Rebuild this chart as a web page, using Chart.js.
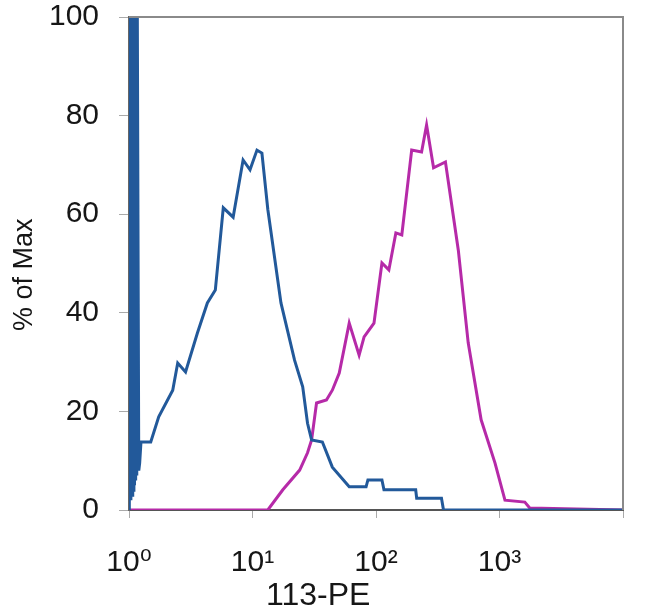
<!DOCTYPE html>
<html>
<head>
<meta charset="utf-8">
<script src="https://cdn.jsdelivr.net/npm/chart.js@4.4.1/dist/chart.umd.min.js"></script>
<style>
  html, body { margin: 0; padding: 0; background: #ffffff; }
  #wrap { width: 650px; height: 615px; position: relative; }
</style>
</head>
<body>
<div id="wrap"><canvas id="c" width="650" height="615"></canvas></div>
<script>
// ---- data ----
const blueX = [1, 1, 1.012, 1.024, 1.036, 1.048, 1.06, 1.072, 1.084, 1.096, 1.108, 1.12, 1.132, 1.144, 1.156, 1.168, 1.2, 1.22, 1.25, 1.5, 1.74, 2.26, 2.48, 2.87, 3.58, 4.31, 5.0, 5.8, 6.97, 8.39, 9.55, 10.87, 11.92, 13.3, 17.0, 21.9, 25.5, 27.9, 30.1, 36.8, 44.3, 60.7, 83.1, 86, 111.7, 116, 209.6, 213.5, 339, 352, 10000];
const blueY = [0, 100, 1, 100, 2, 100, 3, 100, 4, 100, 5, 100, 6, 100, 7, 100, 8, 9.5, 13.8, 13.8, 18.9, 24.3, 29.8, 28.0, 35.9, 42.0, 44.6, 61.3, 59.4, 71.0, 69.0, 73.0, 72.4, 61.0, 42.0, 30.4, 25.0, 17.6, 14.2, 13.8, 8.7, 4.7, 4.7, 6.1, 6.1, 4.1, 4.1, 2.4, 2.4, 0, 0];

const magX = [1, 13.3, 17.6, 24.1, 27.9, 30.1, 33.0, 39.7, 44.3, 50.4, 60.7, 73.0, 80.1, 96.3, 111.7, 127.1, 144.8, 161.8, 194.5, 233.9, 256.8, 292.5, 365, 464, 558, 710, 920, 1107, 1603, 1757, 10000];
const magY = [0, 0, 4.1, 8.1, 11.6, 14.2, 21.7, 22.3, 24.3, 27.8, 37.9, 31.4, 35.1, 37.9, 50.1, 48.7, 56.2, 55.8, 73.0, 72.6, 78.1, 69.4, 70.6, 52.7, 33.9, 18.3, 9.5, 2.0, 1.6, 0.4, 0];

const xTickValues = [1, 10, 100, 1000, 10000];
const xTickLabels = ['10\u2070', '10\u00B9', '10\u00B2', '10\u00B3', ''];
const yTickValues = [0, 20, 40, 60, 80, 100];
const xTitle = '113-PE';
const yTitle = '% of Max';

// ---- chart ----
const FONT = "'Liberation Sans', Arial, 'DejaVu Sans', sans-serif";
const toPts = (xs, ys) => xs.map((x, i) => ({ x: x, y: ys[i] }));

const frame = {
  id: 'frame',
  afterDraw(chart) {
    const { ctx, chartArea: a } = chart;
    ctx.save();
    ctx.strokeStyle = '#8a8a8a';
    ctx.lineWidth = 2;
    ctx.beginPath();
    ctx.moveTo(a.left, a.top);
    ctx.lineTo(a.right, a.top);
    ctx.lineTo(a.right, a.bottom);
    ctx.stroke();
    ctx.restore();
  }
};

new Chart(document.getElementById('c'), {
  type: 'scatter',
  data: {
    datasets: [
      {
        label: 'isotype',
        data: toPts(blueX, blueY),
        showLine: true,
        borderColor: '#22599a',
        borderWidth: 3,
        pointRadius: 0,
        tension: 0,
        fill: false
      },
      {
        label: '113-PE',
        data: toPts(magX, magY),
        showLine: true,
        borderColor: '#b62aa8',
        borderWidth: 3,
        pointRadius: 0,
        tension: 0,
        fill: false
      }
    ]
  },
  options: {
    responsive: false,
    animation: false,
    devicePixelRatio: 1,
    layout: { padding: { left: 0, right: 25, top: 17, bottom: 0 } },
    plugins: {
      legend: { display: false },
      tooltip: { enabled: false }
    },
    scales: {
      x: {
        type: 'logarithmic',
        min: 1,
        max: 10000,
        afterBuildTicks(scale) {
          scale.ticks = xTickValues.map(v => ({ value: v, major: true }));
        },
        afterFit(scale) { scale.height = 105; },
        ticks: {
          autoSkip: false,
          maxRotation: 0,
          minRotation: 0,
          padding: 27,
          color: '#161616',
          font: { family: FONT, size: 30 },
          callback: (v, i) => xTickLabels[i]
        },
        grid: { display: true, drawOnChartArea: false, drawTicks: true, tickLength: 8, color: '#aaaaaa' },
        border: { display: true, color: '#555555', width: 2 },
        title: {
          display: true,
          text: xTitle + '             ',
          color: '#161616',
          font: { family: FONT, size: 32 },
          padding: { top: 0, bottom: 0 }
        }
      },
      y: {
        type: 'linear',
        min: 0,
        max: 100,
        afterBuildTicks(scale) {
          scale.ticks = yTickValues.map(v => ({ value: v }));
        },
        afterFit(scale) {
          scale.width = 129;
          scale.paddingTop = 0;
          scale.paddingBottom = 0;
        },
        ticks: {
          padding: 20,
          color: '#161616',
          font: { family: FONT, size: 30 }
        },
        grid: { display: true, drawOnChartArea: false, drawTicks: true, tickLength: 10, color: '#aaaaaa' },
        border: { display: true, color: '#666666', width: 2 },
        title: {
          display: true,
          text: yTitle + '   ',
          color: '#161616',
          font: { family: FONT, size: 27 },
          padding: { top: 8, bottom: 0 }
        }
      }
    }
  },
  plugins: [frame]
});
</script>
</body>
</html>
